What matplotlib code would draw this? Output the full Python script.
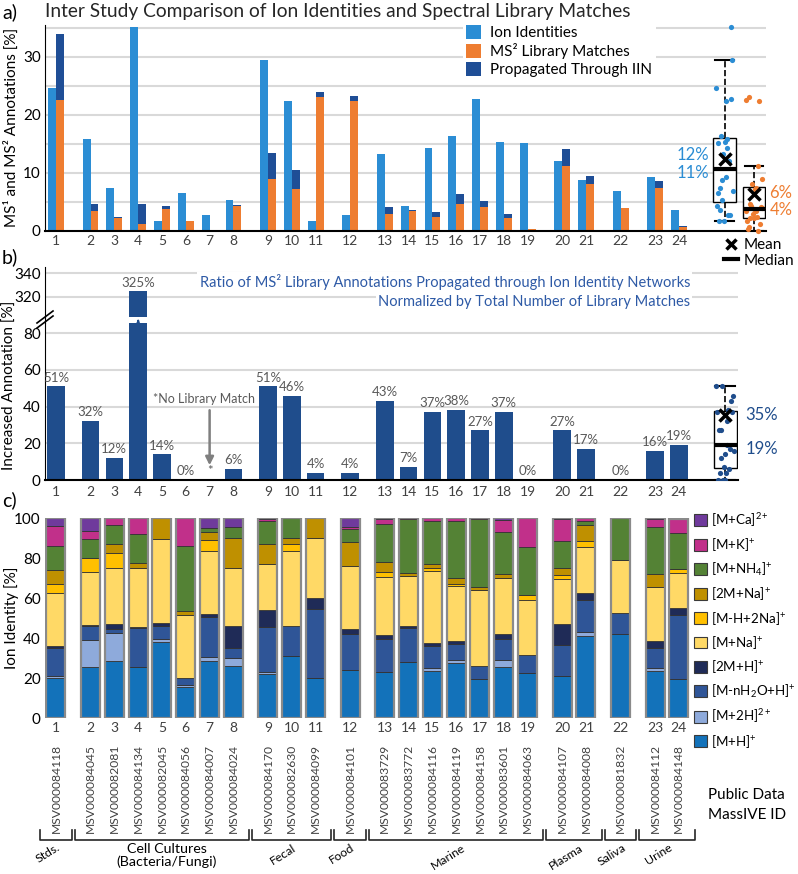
import numpy as np
import matplotlib
matplotlib.use('Agg')
import matplotlib.pyplot as plt
from matplotlib.lines import Line2D
from matplotlib.patches import Patch
from matplotlib.transforms import blended_transform_factory

plt.rcParams['font.family'] = 'Lato'
plt.rcParams['mathtext.fontset'] = 'custom'
plt.rcParams['mathtext.rm'] = 'Lato'
plt.rcParams['mathtext.it'] = 'Lato:italic'
plt.rcParams['mathtext.bf'] = 'Lato:bold'

# ---- data ----
studies = [str(i) for i in range(1, 25)]
study_group = [0, 1, 1, 1, 1, 1, 1, 1, 2, 2, 2, 3, 4, 4, 4, 4, 4, 4, 4, 5, 5, 6, 7, 7]
group_names = ['Stds.', 'Cell Cultures\n(Bacteria/Fungi)', 'Fecal', 'Food', 'Marine',
               'Plasma', 'Saliva', 'Urine']
massive_ids = ['MSV000084118', 'MSV000084045', 'MSV000082081', 'MSV000084134',
               'MSV000082045', 'MSV000084056', 'MSV000084007', 'MSV000084024',
               'MSV000084170', 'MSV000082630', 'MSV000084099', 'MSV000084101',
               'MSV000083729', 'MSV000083772', 'MSV000084116', 'MSV000084119',
               'MSV000084158', 'MSV000083601', 'MSV000084063', 'MSV000084107',
               'MSV000084008', 'MSV000081832', 'MSV000084112', 'MSV000084148']

# panel a  [% of features]
ion_identity = [24.6, 15.8, 7.4, 35.2, 1.7, 6.5, 2.6, 5.2, 29.5, 22.3, 1.6, 2.7,
                13.2, 4.2, 14.2, 16.4, 22.8, 15.3, 15.1, 12.0, 8.7, 6.8, 9.2, 3.6]
library_match = [22.5, 3.4, 2.1, 1.1, 3.7, 1.6, 0.0, 4.2, 8.9, 7.2, 23.0, 22.3,
                 2.8, 3.3, 2.3, 4.6, 4.0, 2.1, 0.2, 11.1, 8.1, 3.9, 7.4, 0.6]
propagated = [11.4, 1.1, 0.25, 3.55, 0.5, 0.0, 0.0, 0.25, 4.55, 3.3, 0.95, 0.9,
              1.2, 0.23, 0.85, 1.75, 1.1, 0.8, 0.0, 3.0, 1.4, 0.0, 1.2, 0.11]

# panel b  [% increase], study 7 has no library match
increase = [51, 32, 12, 325, 14, 0, np.nan, 6, 51, 46, 4, 4, 43, 7, 37, 38, 27, 37,
            0, 27, 17, 0, 16, 19]

# panel c  ion identity composition [%]
mh = [19.9, 25.7, 28.3, 25.3, 38.1, 15.5, 28.6, 25.8, 21.9, 31.0, 19.9, 24.2,
      22.9, 27.8, 23.7, 27.5, 19.6, 25.3, 22.4, 20.9, 41.2, 42.2, 23.7, 19.3]
m2h = [0.9, 13.5, 14.2, 0, 1.4, 0.8, 2.1, 4.4, 1.3, 0, 0, 0,
       0, 0, 1.1, 1.6, 0, 3.6, 0, 0, 1.6, 0, 1.1, 0]
mh2o = [14.4, 6.6, 2.1, 19.6, 6.3, 3.6, 20.0, 4.9, 22.1, 15.1, 34.8, 18.0,
        16.8, 17.1, 11.1, 7.7, 6.5, 10.6, 9.0, 15.5, 16.4, 10.4, 10.3, 32.2]
dimer_h = [0.8, 0.8, 2.5, 0.8, 1.6, 0, 1.3, 11.0, 8.6, 0, 5.4, 2.4,
           2.0, 0.9, 1.7, 1.6, 0, 2.5, 0, 10.7, 3.2, 0, 3.3, 3.6]
mna = [26.7, 26.6, 28.1, 29.1, 42.1, 31.6, 31.3, 29.1, 23.2, 37.2, 29.8, 31.4,
       28.6, 25.0, 35.9, 27.4, 38.0, 27.8, 27.8, 22.3, 22.9, 26.6, 27.3, 17.6]
mh2na = [4.1, 6.9, 7.3, 0, 0, 0, 5.8, 0, 0, 3.8, 0, 0,
         2.7, 0, 1.3, 1.2, 0, 0, 2.4, 2.2, 3.3, 0, 0, 2.0]
dimer_na = [7.2, 0, 4.6, 2.5, 10.5, 2.1, 3.7, 14.7, 10.0, 2.8, 10.1, 12.2,
            5.1, 1.6, 2.0, 2.9, 1.3, 2.4, 0, 3.2, 8.1, 0, 6.2, 0]
mnh4 = [12.2, 9.3, 9.3, 14.7, 0, 32.5, 2.0, 5.4, 11.4, 10.1, 0, 6.2,
        18.8, 26.9, 21.7, 28.6, 33.9, 20.6, 23.7, 13.8, 1.7, 20.8, 23.4, 17.6]
mk = [9.8, 4.2, 3.6, 8.0, 0, 13.9, 0, 0, 0.8, 0, 0, 1.2,
      2.4, 0.7, 1.5, 1.5, 0.7, 6.1, 14.7, 10.7, 1.6, 0, 4.0, 7.4]
mca = [4.1, 6.4, 0, 0, 0, 0, 5.2, 4.7, 0.7, 0, 0, 4.4,
       0.7, 0, 0, 0, 0, 1.1, 0, 0.7, 0, 0, 0.7, 0]

ion_series = [mh, m2h, mh2o, dimer_h, mna, mh2na, dimer_na, mnh4, mk, mca]
ion_labels = [r'[M+H]$^{+}$', r'[M+2H]$^{2+}$', r'[M-nH$_2$O+H]$^{+}$', r'[2M+H]$^{+}$',
              r'[M+Na]$^{+}$', r'[M-H+2Na]$^{+}$', r'[2M+Na]$^{+}$', r'[M+NH$_4$]$^{+}$',
              r'[M+K]$^{+}$', r'[M+Ca]$^{2+}$']
ion_colors = ['#1372ba', '#8eaadb', '#2f5597', '#1f2b57', '#ffd966', '#ffc000',
              '#bf9000', '#548235', '#c1308a', '#6f3a9c']

c_ion = '#2b8dd4'
c_lib = '#ee7d31'
c_prop = '#1f4e96'
c_incr = '#1f4d8c'
c_grid = '#d9d9d9'
c_tick = '#404040'

W, H = 798, 874
fig = plt.figure(figsize=(W / 100, H / 100), dpi=100)


def add_ax(l, t, r, b):
    return fig.add_axes([l / W, 1 - b / H, (r - l) / W, (b - t) / H])


x = np.arange(24) + 0.45 * np.array(study_group)
box_a1, box_a2, box_b = 28.06, 29.3, 28.1


def jitter(n, spread):
    return ((np.arange(n) * 0.618034) % 1 - 0.5) * spread


def style_axis(ax):
    for s in ['top', 'right']:
        ax.spines[s].set_visible(False)
    ax.tick_params(length=0, labelsize=11, pad=3)
    ax.tick_params(axis='x', labelsize=10, labelcolor=c_tick)
    ax.set_axisbelow(True)


# ---------------- panel a ----------------
ax = add_ax(45, 25, 766, 230.5)
style_axis(ax)
ax.set_xlim(-0.46, 29.8)
ax.set_ylim(0, 35.5)
for g in range(5, 36, 5):
    ax.axhline(g, color=c_grid, lw=1.5, zorder=0)
bw = 0.33
ax.bar(x - bw / 2, ion_identity, bw, color=c_ion, label='Ion Identities', zorder=2)
ax.bar(x + bw / 2, library_match, bw, color=c_lib, label='MS² Library Matches', zorder=2)
ax.bar(x + bw / 2, propagated, bw, bottom=library_match, color=c_prop,
       label='Propagated Through IIN', zorder=2)
ax.set_xticks(x)
ax.set_xticklabels(studies)
ax.set_yticks([0, 10, 20, 30])
ax.spines['bottom'].set_linewidth(1.5)
ax.set_ylabel('MS¹ and MS² Annotations [%]', fontsize=11)
ax.yaxis.set_label_coords(-0.036, 0.5)
ax.legend(loc='upper left', bbox_to_anchor=(463 / W, 1 - 22 / H), bbox_transform=fig.transFigure,
          frameon=True, facecolor='white', edgecolor='none', framealpha=1, fancybox=False,
          fontsize=11, handlelength=1.0, handleheight=1.0, labelspacing=0.2,
          borderpad=0.2, handletextpad=0.6, borderaxespad=0)

for pos, vals, col, wd in [(box_a1, ion_identity, c_ion, 0.95), (box_a2, library_match, c_lib, 0.92)]:
    bp = ax.boxplot([vals], positions=[pos], widths=wd, whis=1.5, showfliers=False,
                    patch_artist=True, capwidths=0.8 * wd, manage_ticks=False,
                    boxprops=dict(facecolor='white', edgecolor='black', lw=1),
                    whiskerprops=dict(color='black', ls='--', lw=1.2),
                    capprops=dict(color='black', lw=1.5),
                    medianprops=dict(color='black', lw=3), zorder=3)
    bp['medians'][0].set_zorder(5)
    ax.scatter(pos + jitter(len(vals), 0.72), vals, s=14, color=col, zorder=4,
               clip_on=False, linewidths=0)
    ax.plot(pos, np.mean(vals), marker='x', ms=8, mew=2.5, color='black', zorder=6)

ax.text(27.4, np.mean(ion_identity) + 0.6, f'{np.mean(ion_identity):.0f}%', ha='right',
        va='center', color=c_ion, fontsize=12)
ax.text(27.4, np.median(ion_identity) - 0.6, f'{np.median(ion_identity):.0f}%', ha='right',
        va='center', color=c_ion, fontsize=12)
ax.text(29.95, np.mean(library_match) + 0.2, f'{np.mean(library_match):.0f}%', ha='left',
        va='center', color=c_lib, fontsize=12, clip_on=False)
ax.text(29.95, np.median(library_match) - 0.2, f'{np.median(library_match):.0f}%', ha='left',
        va='center', color=c_lib, fontsize=12, clip_on=False)

fig.text(45 / W, 1 - 12 / H, 'Inter Study Comparison of Ion Identities and Spectral Library Matches',
         fontsize=13.8, va='center', ha='left', color='#262626')

fig.legend(handles=[Line2D([], [], marker='x', ls='none', color='black', ms=7, mew=2.5),
                    Line2D([], [], color='black', lw=3)],
           labels=['Mean', 'Median'], loc='upper left', bbox_to_anchor=(724 / W, 1 - 238 / H),
           frameon=False, fontsize=11, handlelength=0.9, handletextpad=0.4,
           labelspacing=0.1, borderpad=0, borderaxespad=0)

# ---------------- panel b ----------------
incr = np.array(increase, dtype=float)
has_lib = ~np.isnan(incr)
bw_b = 0.74

ax_top = add_ax(45, 267, 738, 316.7)
ax_b = add_ax(45, 323, 738, 480)
for a in (ax_top, ax_b):
    style_axis(a)
    a.set_xlim(-0.46, 28.63)
    a.bar(x[has_lib], incr[has_lib], bw_b, color=c_incr, zorder=2)
ax_top.set_ylim(302.8, 345.5)
ax_top.set_yticks([320, 340])
ax_top.spines['bottom'].set_visible(False)
ax_top.set_xticks([])
for g in [320, 340]:
    ax_top.axhline(g, color=c_grid, lw=1.5, zorder=0)
ax_b.set_ylim(0, 85.5)
ax_b.set_yticks([0, 20, 40, 60, 80])
for g in [20, 40, 60, 80]:
    ax_b.axhline(g, color=c_grid, lw=1.5, zorder=0)
ax_b.spines['top'].set_visible(False)
ax_b.spines['bottom'].set_linewidth(1.5)
ax_b.set_xticks(x)
ax_b.set_xticklabels(studies)
ax_b.tick_params(axis='x', pad=4)
ax_b.set_ylabel('Increased Annotation [%]', fontsize=11)
ax_b.yaxis.set_label_coords(-0.04, 0.6)

for xi, v in zip(x[has_lib], incr[has_lib]):
    if v > 85:
        ax_top.text(xi, v + 2, f'{v:.0f}%', ha='center', va='bottom', fontsize=9.5, color='#595959')
    else:
        ax_b.text(xi, v + 1.5, f'{v:.0f}%', ha='center', va='bottom', fontsize=9.5, color='#595959')

x7 = x[~has_lib][0]
ax_b.text(x7 - 0.25, 44, '*No Library Match', ha='center', va='center', fontsize=9, color='#595959')
ax_b.annotate('', xy=(x7, 6.5), xytext=(x7, 39.5),
              arrowprops=dict(arrowstyle='-|>', color='#7f7f7f', lw=1.8, mutation_scale=12))
ax_b.text(x7, 1.5, '*', ha='center', va='bottom', fontsize=9.5, color='#595959')

# break marks and arrow for the 325% bar
x4_px = 56 + 23.82 * x[3]
ax_b.annotate('', xy=(x4_px / W, 1 - 316.5 / H), xytext=(x4_px / W, 1 - 324 / H),
              xycoords='figure fraction', textcoords='figure fraction',
              arrowprops=dict(arrowstyle='-|>', color=c_incr, lw=1.5, mutation_scale=9))
fig.add_artist(Line2D([45 / W, 45 / W], [1 - 316.7 / H, 1 - 323 / H], color='black', lw=0.8))
for dy in (0, 5):
    fig.add_artist(Line2D([37 / W, 53 / W], [1 - (323 + dy) / H, 1 - (311 + dy) / H],
                          color='black', lw=1.2))

bvals = incr[has_lib]
bp = ax_b.boxplot([bvals], positions=[box_b], widths=0.97, whis=1.5, showfliers=False,
                  patch_artist=True, capwidths=0.85, manage_ticks=False,
                  boxprops=dict(facecolor='white', edgecolor='black', lw=1),
                  whiskerprops=dict(color='black', ls='--', lw=1.2),
                  capprops=dict(color='black', lw=1.5),
                  medianprops=dict(color='black', lw=3), zorder=3)
bp['medians'][0].set_zorder(5)
ax_b.scatter(box_b + jitter(len(bvals), 0.75), bvals, s=14, color=c_incr, zorder=4, linewidths=0)
ax_b.plot(box_b, np.mean(bvals), marker='x', ms=8, mew=2.5, color='black', zorder=6)
ax_b.text(28.95, np.mean(bvals), f'{np.mean(bvals):.0f}%', ha='left', va='center',
          color=c_incr, fontsize=12, clip_on=False)
ax_b.text(28.95, np.median(bvals) - 2, f'{np.median(bvals):.0f}%', ha='left', va='center',
          color=c_incr, fontsize=12, clip_on=False)

fig.text(690 / W, 1 - 282 / H,
         'Ratio of MS² Library Annotations Propagated through Ion Identity Networks',
         ha='right', va='center', fontsize=10.5, color='#2e5aa6',
         bbox=dict(facecolor='white', edgecolor='none', pad=1.5))
fig.text(690 / W, 1 - 302 / H, 'Normalized by Total Number of Library Matches',
         ha='right', va='center', fontsize=10.5, color='#2e5aa6',
         bbox=dict(facecolor='white', edgecolor='none', pad=1.5))

# ---------------- panel c ----------------
ax_c = add_ax(45, 518, 691, 718)
for s in ax_c.spines.values():
    s.set_visible(False)
ax_c.set_xlim(-0.46, 26.66)
ax_c.set_ylim(0, 100)
bottom = np.zeros(24)
for vals, lab, col in zip(ion_series, ion_labels, ion_colors):
    ax_c.bar(x, vals, 0.8, bottom=bottom, color=col, edgecolor='#333333', lw=0.6, label=lab)
    bottom += np.array(vals)
ax_c.bar(x, bottom, 0.8, fill=False, edgecolor='#8a8a8a', lw=1.6)
ax_c.set_xticks(x)
ax_c.set_xticklabels(studies)
ax_c.set_yticks([0, 20, 40, 60, 80, 100])
ax_c.tick_params(length=0, labelsize=11, pad=3)
ax_c.tick_params(axis='x', labelsize=10, labelcolor=c_tick, pad=3)
ax_c.set_ylabel('Ion Identity [%]', fontsize=11)
ax_c.yaxis.set_label_coords(-0.04, 0.5)

handles = [Patch(facecolor=c, edgecolor='#3a3a3a', lw=0.8) for c in ion_colors][::-1]
fig.legend(handles=handles, labels=ion_labels[::-1], loc='upper left',
           bbox_to_anchor=(694 / W, 1 - 511 / H), frameon=False, fontsize=9.6,
           handlelength=1.0, handleheight=1.0, labelspacing=0.56, handletextpad=0.3,
           borderpad=0, borderaxespad=0)

trans = blended_transform_factory(ax_c.transData, fig.transFigure)
for xi, mid in zip(x, massive_ids):
    ax_c.text(xi, 1 - 744 / H, mid, rotation=90, ha='center', va='top', fontsize=8.7,
              color=c_tick, transform=trans, clip_on=False)

fig.text(708 / W, 1 - 795 / H, 'Public Data', fontsize=11, va='center', ha='left')
fig.text(708 / W, 1 - 815 / H, 'MassIVE ID', fontsize=11, va='center', ha='left')

sg = np.array(study_group)
for g, name in enumerate(group_names):
    xs = x[sg == g]
    x0, x1 = xs.min() - 0.66, xs.max() + 0.66
    y0, y1 = 1 - 830 / H, 1 - 840 / H
    ax_c.plot([x0, x0, x1, x1], [y0, y1, y1, y0], color='#262626', lw=1.2,
              transform=trans, clip_on=False)
    xc = xs.mean()
    if g == 1:
        ax_c.text(xc + 0.2, 1 - 843 / H, name, ha='center', va='top', fontsize=10.3,
                  transform=trans, clip_on=False, linespacing=1.05)
    else:
        ax_c.text(xc - 0.35, 1 - 842 / H, name, ha='center', va='top', fontsize=8.8,
                  rotation=32, transform=trans, clip_on=False)

# panel letters
fig.text(2 / W, 1 - 12 / H, 'a)', fontsize=14, va='center')
fig.text(2 / W, 1 - 257 / H, 'b)', fontsize=14, va='center')
fig.text(2 / W, 1 - 500 / H, 'c)', fontsize=14, va='center')

fig.savefig('out.png', dpi=100)
